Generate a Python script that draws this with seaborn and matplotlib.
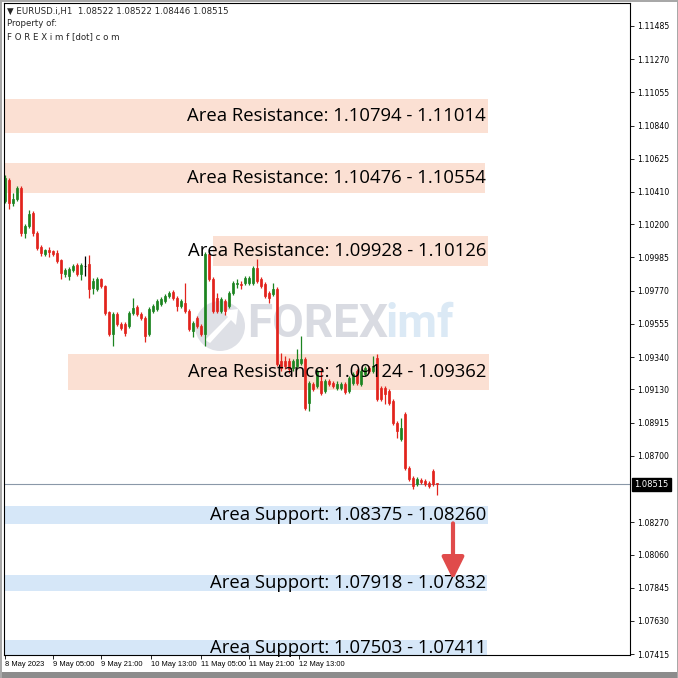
import pandas as pd
import matplotlib
matplotlib.use("Agg")
import matplotlib.pyplot as plt
from matplotlib.patches import Rectangle, Circle, Polygon
import seaborn as sns

# --- EURUSD H1 candles ---
opens = [
    1.10354, 1.10484, 1.10341, 1.10367, 1.10432, 1.10146, 1.10191, 1.10276, 1.10146, 1.10054,
    1.10009, 1.10036, 1.10029, 1.10016, 1.09971, 1.09880, 1.09867, 1.09906, 1.09938, 1.09880,
    1.09932, 1.09945, 1.09789, 1.09782, 1.09847, 1.09802, 1.09633, 1.09490, 1.09620, 1.09555,
    1.09555, 1.09542, 1.09626, 1.09665, 1.09620, 1.09594, 1.09490, 1.09639, 1.09652, 1.09685,
    1.09704, 1.09737, 1.09763, 1.09724, 1.09672, 1.09691, 1.09639, 1.09509, 1.09594, 1.09542,
    1.09490, 1.10009, 1.09847, 1.09724, 1.09639, 1.09704, 1.09672, 1.09756, 1.09815, 1.09815,
    1.09821, 1.09821, 1.09821, 1.09919, 1.09847, 1.09815, 1.09756, 1.09750, 1.09782, 1.09314,
    1.09314, 1.09314, 1.09269, 1.09282, 1.09301, 1.09327, 1.09041, 1.09165, 1.09152, 1.09184,
    1.09119, 1.09184, 1.09171, 1.09139, 1.09139, 1.09165, 1.09119, 1.09171, 1.09249, 1.09165,
    1.09230, 1.09269, 1.09249, 1.09334, 1.09139, 1.09139, 1.09119, 1.09054, 1.08911, 1.08807,
    1.08969, 1.08619, 1.08554, 1.08515, 1.08541, 1.08534, 1.08521, 1.08599, 1.08522]
highs = [
    1.10517, 1.10497, 1.10400, 1.10451, 1.10445, 1.10204, 1.10295, 1.10289, 1.10159, 1.10068,
    1.10042, 1.10054, 1.10036, 1.10036, 1.09977, 1.09919, 1.09925, 1.09945, 1.09951, 1.09951,
    1.09997, 1.10003, 1.09854, 1.09860, 1.09854, 1.09808, 1.09639, 1.09633, 1.09633, 1.09568,
    1.09568, 1.09639, 1.09724, 1.09678, 1.09633, 1.09607, 1.09665, 1.09685, 1.09717, 1.09730,
    1.09750, 1.09769, 1.09776, 1.09737, 1.09717, 1.09821, 1.09652, 1.09574, 1.09607, 1.09555,
    1.10023, 1.10029, 1.09860, 1.09756, 1.09730, 1.09717, 1.09769, 1.09834, 1.09847, 1.09834,
    1.09867, 1.09867, 1.09932, 1.09977, 1.09860, 1.09828, 1.09769, 1.09821, 1.09795, 1.09366,
    1.09347, 1.09334, 1.09327, 1.09392, 1.09477, 1.09340, 1.09184, 1.09178, 1.09262, 1.09269,
    1.09197, 1.09197, 1.09184, 1.09184, 1.09178, 1.09178, 1.09217, 1.09243, 1.09262, 1.09262,
    1.09282, 1.09282, 1.09347, 1.09360, 1.09152, 1.09152, 1.09132, 1.09067, 1.08924, 1.08943,
    1.08982, 1.08632, 1.08567, 1.08560, 1.08554, 1.08547, 1.08534, 1.08612, 1.08522]
lows = [
    1.10341, 1.10302, 1.10321, 1.10354, 1.10126, 1.10113, 1.10178, 1.10126, 1.10036, 1.09997,
    1.09997, 1.09990, 1.09997, 1.09951, 1.09847, 1.09860, 1.09841, 1.09893, 1.09867, 1.09841,
    1.09867, 1.09724, 1.09750, 1.09769, 1.09789, 1.09613, 1.09477, 1.09412, 1.09542, 1.09516,
    1.09477, 1.09529, 1.09613, 1.09607, 1.09581, 1.09438, 1.09477, 1.09626, 1.09639, 1.09672,
    1.09691, 1.09724, 1.09711, 1.09639, 1.09659, 1.09626, 1.09509, 1.09470, 1.09529, 1.09477,
    1.09412, 1.09834, 1.09626, 1.09626, 1.09626, 1.09613, 1.09659, 1.09743, 1.09789, 1.09782,
    1.09808, 1.09808, 1.09808, 1.09821, 1.09789, 1.09724, 1.09691, 1.09737, 1.09282, 1.09249,
    1.09262, 1.09236, 1.09249, 1.09269, 1.09288, 1.08996, 1.08989, 1.09119, 1.09139, 1.09093,
    1.09106, 1.09152, 1.09139, 1.09126, 1.09126, 1.09100, 1.09106, 1.09158, 1.09158, 1.09152,
    1.09217, 1.09236, 1.09236, 1.09054, 1.09054, 1.09035, 1.09028, 1.08898, 1.08813, 1.08794,
    1.08606, 1.08534, 1.08482, 1.08502, 1.08515, 1.08502, 1.08489, 1.08502, 1.08446]
closes = [
    1.10497, 1.10341, 1.10367, 1.10432, 1.10146, 1.10191, 1.10269, 1.10146, 1.10049, 1.10016,
    1.10036, 1.10023, 1.10009, 1.09964, 1.09886, 1.09906, 1.09912, 1.09932, 1.09880, 1.09938,
    1.09932, 1.09782, 1.09834, 1.09847, 1.09802, 1.09626, 1.09490, 1.09620, 1.09555, 1.09529,
    1.09496, 1.09626, 1.09659, 1.09620, 1.09594, 1.09477, 1.09652, 1.09672, 1.09704, 1.09717,
    1.09737, 1.09756, 1.09724, 1.09672, 1.09704, 1.09639, 1.09522, 1.09561, 1.09542, 1.09490,
    1.10009, 1.09847, 1.09639, 1.09639, 1.09717, 1.09639, 1.09756, 1.09821, 1.09821, 1.09808,
    1.09854, 1.09854, 1.09919, 1.09834, 1.09802, 1.09737, 1.09724, 1.09782, 1.09295, 1.09269,
    1.09282, 1.09262, 1.09314, 1.09327, 1.09327, 1.09009, 1.09171, 1.09132, 1.09249, 1.09106,
    1.09184, 1.09165, 1.09152, 1.09165, 1.09165, 1.09113, 1.09204, 1.09230, 1.09171, 1.09249,
    1.09269, 1.09249, 1.09282, 1.09067, 1.09067, 1.09100, 1.09041, 1.08911, 1.08859, 1.08878,
    1.08619, 1.08547, 1.08502, 1.08547, 1.08528, 1.08515, 1.08502, 1.08515, 1.08515]

time_labels = ["8 May 2023", "9 May 05:00", "9 May 21:00", "10 May 13:00",
               "11 May 05:00", "11 May 21:00", "12 May 13:00"]
time_ticks = [0, 12, 24, 36.5, 49, 61, 73.5]

price_ticks = [1.11485, 1.11270, 1.11055, 1.10840, 1.10625, 1.10410, 1.10200, 1.09985,
               1.09770, 1.09555, 1.09340, 1.09130, 1.08915, 1.08700, 1.08270, 1.08060,
               1.07845, 1.07630, 1.07415]
last_price = 1.08515

res_labels = ["Area Resistance: 1.10794 - 1.11014", "Area Resistance: 1.10476 - 1.10554",
              "Area Resistance: 1.09928 - 1.10126", "Area Resistance: 1.09124 - 1.09362"]
res_low = [1.10794, 1.10400, 1.09928, 1.09124]
res_high = [1.11014, 1.10600, 1.10126, 1.09362]

sup_labels = ["Area Support: 1.08375 - 1.08260", "Area Support: 1.07918 - 1.07832",
              "Area Support: 1.07503 - 1.07411"]
sup_low = [1.08260, 1.07826, 1.07400]
sup_high = [1.08375, 1.07930, 1.07507]

# layout of the zone boxes (bar index)
res_x0 = [-0.4, -0.4, 52, 15.75]
res_x1 = [120.75, 120, 120.75, 121]
sup_x0 = [-0.4, -0.4, -0.4]
sup_x1 = [120.75, 120.5, 120.5]
text_x = 120.25

df = pd.DataFrame({"open": opens, "high": highs, "low": lows, "close": closes})
df["bar"] = range(len(df))
df["lo"] = df[["open", "close"]].min(axis=1)
df["hi"] = df[["open", "close"]].max(axis=1)

up_col, dn_col = "#1c8420", "#e2231c"
df["color"] = [up_col if c > o else (dn_col if c < o else "black")
               for o, c in zip(df["open"], df["close"])]

sns.set_theme(style="white")
plt.rcParams["font.family"] = ["DejaVu Sans"]

W = 678
fig = plt.figure(figsize=(6.78, 6.78), dpi=100)
ax = fig.add_axes([3.5 / W, 1 - 655 / W, (630 - 3.5) / W, (655 - 3) / W])
ax.set_facecolor("white")

# zones
for lo, hi, x0, x1 in zip(res_low, res_high, res_x0, res_x1):
    ax.add_patch(Rectangle((x0, lo), x1 - x0, hi - lo, color="#fbe0d3", lw=0, zorder=0.6))
for lo, hi, x0, x1 in zip(sup_low, sup_high, sup_x0, sup_x1):
    ax.add_patch(Rectangle((x0, lo), x1 - x0, hi - lo, color="#d6e7f8", lw=0, zorder=0.6))

# watermark
ax.add_patch(Circle((220 / W, 1 - 326 / W), 25 / W, transform=fig.transFigure,
                    color="#c9ccd6", alpha=0.6, lw=0, zorder=0.7))
ax.add_patch(Polygon([(205 / W, 1 - 340 / W), (228 / W, 1 - 317 / W), (222 / W, 1 - 311 / W),
                      (238 / W, 1 - 309 / W), (236 / W, 1 - 325 / W), (231 / W, 1 - 320 / W),
                      (210 / W, 1 - 343 / W)], closed=True, transform=fig.transFigure,
                     color="white", lw=0, zorder=0.75))
ax.text(247 / W, 1 - 324 / W, "FOREX", transform=fig.transFigure, family="Roboto",
        fontweight="bold", fontsize=33, color="#c6c9d3", alpha=0.65, ha="left",
        va="center", zorder=0.75)
ax.text(386 / W, 1 - 324 / W, "imf", transform=fig.transFigure, family="Roboto",
        fontweight="bold", fontsize=33, color="#cfe2f2", alpha=0.75, ha="left",
        va="center", zorder=0.75)

# candles
ax.vlines(df["bar"], df["low"], df["high"], colors=df["color"], lw=0.9, zorder=2)
ax.bar(df["bar"], df["hi"] - df["lo"], bottom=df["lo"], width=0.55,
       color=df["color"], edgecolor=df["color"], lw=0.5, zorder=2.1)

# current price line
ax.axhline(last_price, color="#8a98a8", lw=0.8, zorder=1.5)

# zone labels
for lo, hi, lab in zip(res_low, res_high, res_labels):
    ax.text(text_x, (lo + hi) / 2, lab, ha="right", va="center", family="Open Sans",
            fontsize=13.3, color="black", zorder=3)
for lo, hi, lab in zip(sup_low, sup_high, sup_labels):
    ax.text(text_x, (lo + hi) / 2, lab, ha="right", va="center", family="Open Sans",
            fontsize=13.3, color="black", zorder=3)

# expected move arrow
ax.annotate("", xy=(112, 1.07897), xytext=(112, 1.08262),
            arrowprops=dict(arrowstyle="-|>,head_width=0.42,head_length=0.85",
                            color="#e04b4b", lw=3, mutation_scale=16,
                            shrinkA=0, shrinkB=0), zorder=4)

ax.set_xlim(-0.375, 156.25)
ax.set_ylim(1.07409, 1.11634)

for s in ax.spines.values():
    s.set_color("black")
    s.set_linewidth(0.8)

ax.yaxis.tick_right()
ax.set_yticks(price_ticks)
ax.set_yticklabels([f"{p:.5f}" for p in price_ticks])
ax.set_xticks(time_ticks)
ax.set_xticklabels(time_labels, family="Liberation Sans")
plt.setp(ax.get_xticklabels(), ha="left")
ax.tick_params(axis="y", right=True, direction="out", length=3, width=0.6,
               labelsize=5.6, pad=2, colors="black")
ax.tick_params(axis="x", bottom=True, direction="out", length=3, width=0.6,
               labelsize=5.4, pad=1.5, colors="black")
ax.grid(False)

# last price tag on the scale
ax.annotate(f"{last_price:.5f}", xy=(1.0, last_price), xycoords=("axes fraction", "data"),
            xytext=(3, 0), textcoords="offset points", ha="left", va="center",
            fontsize=6, color="white",
            bbox=dict(boxstyle="square,pad=0.25", fc="black", ec="black"),
            annotation_clip=False, zorder=5)

# header text
fig.text(7 / W, 1 - 11 / W, "\u25bc EURUSD.i,H1  1.08522 1.08522 1.08446 1.08515",
         fontsize=6.2, ha="left", va="center")
fig.text(7 / W, 1 - 24 / W, "Property of:", fontsize=6.2, ha="left", va="center")
fig.text(7 / W, 1 - 37 / W, "F O R E X i m f [dot] c o m", fontsize=6.2, ha="left", va="center")

# window frame
fig.patches.append(Rectangle((0, 0), 1, 6 / W, transform=fig.transFigure, color="#8c8c8c", lw=0))
fig.patches.append(Rectangle((0, 1 - 2 / W), 1, 2 / W, transform=fig.transFigure, color="#a8a8a8", lw=0))
fig.patches.append(Rectangle((0, 0), 2 / W, 1, transform=fig.transFigure, color="#a8a8a8", lw=0))
fig.patches.append(Rectangle((1 - 1.5 / W, 0), 1.5 / W, 1, transform=fig.transFigure, color="#a8a8a8", lw=0))

fig.savefig("out.png", dpi=100)
